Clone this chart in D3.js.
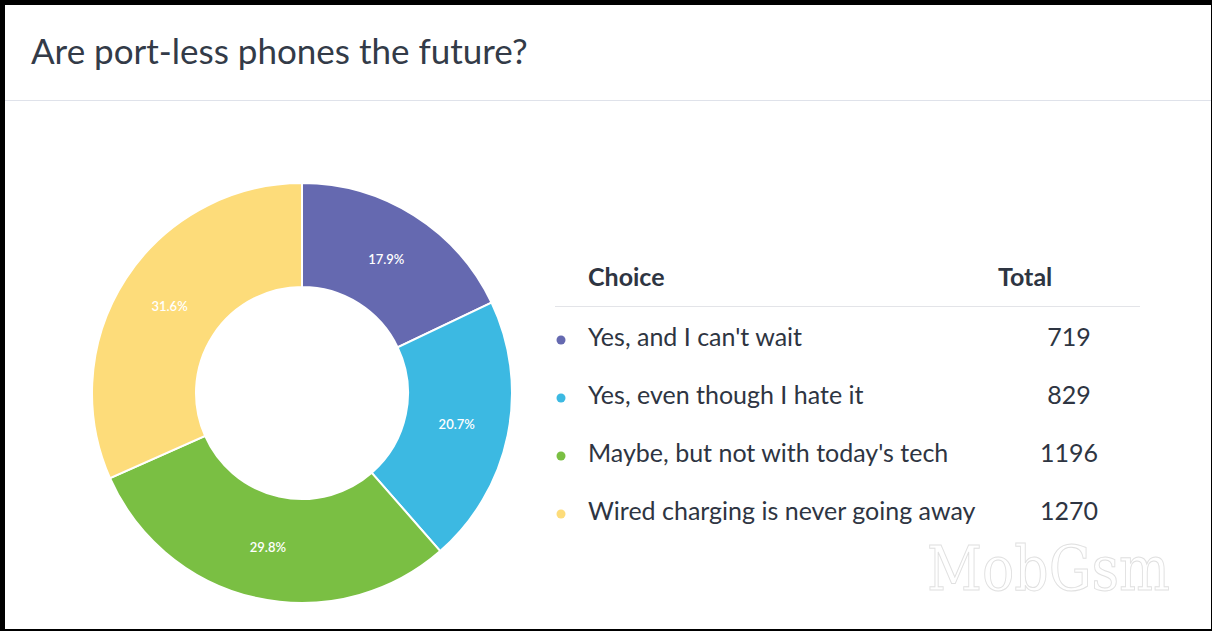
<!DOCTYPE html>
<html>
<head>
<meta charset="utf-8">
<script src="https://cdn.jsdelivr.net/npm/d3@7"></script>
<style>
  html, body { margin: 0; padding: 0; background: #fff; }
  svg { display: block; }
</style>
</head>
<body>
<svg id="chart" width="1212" height="631"></svg>
<script>
const title = "Are port-less phones the future?";
const categories = ["Yes, and I can't wait", "Yes, even though I hate it", "Maybe, but not with today's tech", "Wired charging is never going away"];
const values = [719, 829, 1196, 1270];
const colors = ["#6569b0", "#3cb9e2", "#7abf43", "#fddc7a"];
const headers = ["Choice", "Total"];

const W = 1212, H = 631;
const svg = d3.select("#chart");
const font = "Lato, 'Noto Sans', sans-serif";
const textColor = "#2e3542";

svg.append("rect").attr("x", 0).attr("y", 0).attr("width", W).attr("height", H).attr("fill", "#000");
svg.append("rect").attr("x", 5).attr("y", 5).attr("width", W - 6).attr("height", H - 7).attr("fill", "#fff");

svg.append("text").attr("x", 31).attr("y", 64)
  .attr("font-family", font).attr("font-size", 35).attr("fill", "#333b48")
  .text(title);
svg.append("line").attr("x1", 5).attr("x2", W - 1).attr("y1", 100.5).attr("y2", 100.5)
  .attr("stroke", "#dfe2ea").attr("stroke-width", 1);

// donut
const cx = 302, cy = 393, outerR = 210, innerR = 106;
const total = d3.sum(values);
const pie = d3.pie().sort(null).value(d => d)(values);
const arc = d3.arc().innerRadius(innerR).outerRadius(outerR);
const color = d3.scaleOrdinal().domain(d3.range(values.length)).range(colors);
const g = svg.append("g").attr("transform", `translate(${cx},${cy})`);
g.selectAll("path").data(pie).join("path")
  .attr("d", arc).attr("fill", (d, i) => color(i))
  .attr("stroke", "#fff").attr("stroke-width", 2);
const fmt = d3.format(".1f");
g.selectAll("text").data(pie).join("text")
  .attr("transform", d => `translate(${arc.centroid(d)})`)
  .attr("text-anchor", "middle").attr("dy", "0.35em")
  .attr("font-family", font).attr("font-size", 13).attr("font-weight", 600).attr("fill", "#fff")
  .text(d => fmt(d.value / total * 100) + "%");

// table legend
const tx = 588, numX = 1069, fs = 25;
svg.append("text").attr("x", tx).attr("y", 286)
  .attr("font-family", font).attr("font-weight", "bold").attr("font-size", fs).attr("fill", textColor)
  .text(headers[0]);
svg.append("text").attr("x", 998).attr("y", 286)
  .attr("font-family", font).attr("font-weight", "bold").attr("font-size", fs).attr("fill", textColor)
  .text(headers[1]);
svg.append("line").attr("x1", 555).attr("x2", 1140).attr("y1", 306.5).attr("y2", 306.5)
  .attr("stroke", "#e3e4e8").attr("stroke-width", 1);

const rowY = d3.scalePoint().domain(categories).range([337, 511]);
const rows = svg.append("g").selectAll("g").data(categories).join("g")
  .attr("transform", d => `translate(0,${rowY(d)})`);
rows.append("circle").attr("cx", 561).attr("cy", 3).attr("r", 4.5).attr("fill", (d, i) => color(i));
rows.append("text").attr("x", tx).attr("y", 0).attr("dy", "0.35em")
  .attr("font-family", font).attr("font-size", fs).attr("fill", textColor)
  .text(d => d);
rows.append("text").attr("x", numX).attr("y", 0).attr("dy", "0.35em").attr("text-anchor", "middle")
  .attr("font-family", font).attr("font-size", fs).attr("fill", textColor)
  .text((d, i) => values[i]);

// watermark
svg.append("text").attr("x", 927).attr("y", 590)
  .attr("font-family", "'DejaVu Serif', serif").attr("font-size", 62)
  .attr("textLength", 243).attr("lengthAdjust", "spacingAndGlyphs")
  .attr("fill", "#fff").attr("stroke", "#e0e0e0").attr("stroke-width", 1)
  .text("MobGsm");
</script>
</body>
</html>
